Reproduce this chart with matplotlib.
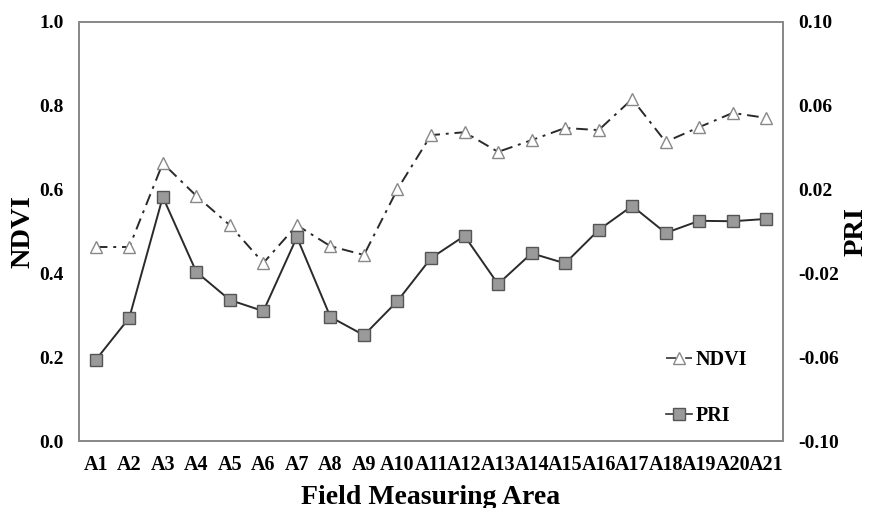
import matplotlib
matplotlib.use("Agg")
import matplotlib.pyplot as plt
from matplotlib.lines import Line2D

areas = [f"A{i}" for i in range(1, 22)]
ndvi = [0.463, 0.463, 0.663, 0.585, 0.515, 0.425, 0.515, 0.465, 0.444, 0.601,
        0.730, 0.737, 0.690, 0.718, 0.747, 0.742, 0.816, 0.714, 0.749, 0.783, 0.771]
pri = [-0.0613, -0.0412, 0.0165, -0.0193, -0.0327, -0.0380, -0.0027, -0.0408, -0.0495, -0.0332,
       -0.0127, -0.0021, -0.0251, -0.0104, -0.0152, 0.0007, 0.0122, -0.0007, 0.0051, 0.0049, 0.0060]
left_ticks = [0.0, 0.2, 0.4, 0.6, 0.8, 1.0]
right_ticks = [-0.10, -0.06, -0.02, 0.02, 0.06, 0.10]

plt.rcParams['font.family'] = ['Liberation Serif', 'DejaVu Serif']
plt.rcParams['font.weight'] = 'bold'

fig = plt.figure(figsize=(8.7, 5.08), dpi=100)
ax = fig.add_axes([79/870, 1-441/508, (783-79)/870, (441-22)/508])
ax2 = ax.twinx()

x = list(range(len(areas)))
spine_c = '#8a8a8a'
ax.plot(x, ndvi, linestyle=(0, (6, 3, 1.5, 3)), color='#2a2a2a', lw=1.4,
        marker='^', markersize=9, markerfacecolor='white', markeredgecolor='#888888',
        markeredgewidth=1.0, zorder=3)
ax2.plot(x, pri, linestyle='-', color='#2a2a2a', lw=1.4,
         marker='s', markersize=8.5, markerfacecolor='#9a9a9a', markeredgecolor='#555555',
         markeredgewidth=1.0, zorder=3)

ax.set_xlim(-0.5, len(areas) - 0.5)
ax.set_ylim(0, 1.0)
ax2.set_ylim(-0.10, 0.10)
ax.set_xticks(x)
ax.set_xticklabels(areas)
ax.set_yticks(left_ticks)
ax.set_yticklabels([f"{v:.1f}" for v in left_ticks])
ax2.set_yticks(right_ticks)
ax2.set_yticklabels([f"{v:.2f}" for v in right_ticks])

for a in (ax, ax2):
    a.tick_params(length=0, labelsize=14)
    for s in a.spines.values():
        s.set_color(spine_c)
        s.set_linewidth(1.4)
ax.tick_params(axis='y', pad=11)
ax.tick_params(axis='x', pad=10, labelsize=14.5)
ax2.tick_params(axis='y', pad=11)
for lab in ax.get_xticklabels() + ax.get_yticklabels() + ax2.get_yticklabels():
    lab.set_fontweight('bold')

ax.set_ylabel("NDVI", fontsize=20.5, fontweight='bold', labelpad=3)
ax2.set_ylabel("PRI", fontsize=20.5, fontweight='bold', labelpad=3)
ax.set_xlabel("Field Measuring Area", fontsize=20, fontweight='bold', labelpad=7)

handles = [
    Line2D([], [], linestyle=(0, (6, 2, 1.5, 2)), color='#333333', lw=1.2, marker='^', markersize=8,
           markerfacecolor='white', markeredgecolor='#888888'),
    Line2D([], [], linestyle='-', color='#333333', lw=1.2, marker='s', markersize=8,
           markerfacecolor='#9a9a9a', markeredgecolor='#555555'),
]
leg = ax.legend(handles, ["NDVI", "PRI"], loc='lower right', bbox_to_anchor=(0.975, -0.008),
                frameon=False, handlelength=1.3, handletextpad=0.2, labelspacing=1.8,
                prop={'family': 'Liberation Serif', 'weight': 'bold', 'size': 14.5})

fig.savefig("out.png", dpi=100)
